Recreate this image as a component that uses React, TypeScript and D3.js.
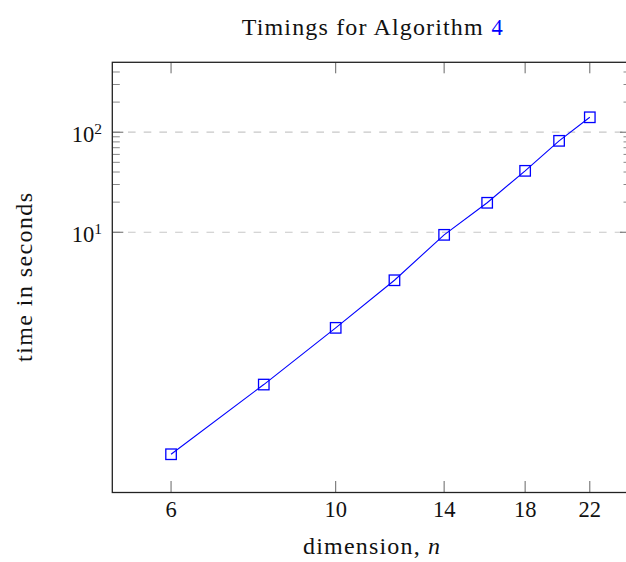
import React from "react";
import * as d3 from "d3";

const dims = [6, 8, 10, 12, 14, 16, 18, 20, 22];
const times = [0.0603, 0.3, 1.107, 3.31, 9.42, 19.7, 41.1, 82, 141];
const xTicks = [6, 10, 14, 18, 22];
const yMajor = [10, 100];
const yMajorExp = ["1", "2"];
const yMinor = [20, 30, 40, 50, 60, 70, 80, 90, 200, 300, 400];

const W = 626, H = 562;
const L = 112.3, R = 631, T = 62.3, B = 492.5;
const FONT = "Liberation Serif";

export default function App() {
  const x = d3.scaleLog().domain([5, 25]).range([L, R]);
  const y = d3.scaleLog().domain([0.025, 500]).range([B, T]);
  const line = d3.line<number>().x((_, i) => x(dims[i])).y((d) => y(d));
  const ms = 10.5;
  return (
    <svg width={W} height={H} style={{ position: "absolute", left: 0, top: 0 }}>
      <rect x={0} y={0} width={W} height={H} fill="#fff" />
      {yMajor.map((v) => (
        <line key={"g" + v} x1={L} x2={R} y1={y(v)} y2={y(v)} stroke="#c8c8c8" strokeWidth={1.2} strokeDasharray="7.6 8.1" />
      ))}
      {xTicks.map((v) => (
        <g key={"xt" + v} stroke="#666" strokeWidth={1}>
          <line x1={x(v)} x2={x(v)} y1={B} y2={B - 11.5} />
          <line x1={x(v)} x2={x(v)} y1={T} y2={T + 11} />
        </g>
      ))}
      {yMajor.map((v) => (
        <g key={"yt" + v} stroke="#666" strokeWidth={1}>
          <line x1={L} x2={L + 11} y1={y(v)} y2={y(v)} />
          <line x1={R} x2={R - 11} y1={y(v)} y2={y(v)} />
        </g>
      ))}
      {yMinor.map((v) => (
        <g key={"ym" + v} stroke="#888" strokeWidth={1}>
          <line x1={L} x2={L + 7.5} y1={y(v)} y2={y(v)} />
          <line x1={R} x2={R - 7.5} y1={y(v)} y2={y(v)} />
        </g>
      ))}
      <rect x={L} y={T} width={R - L} height={B - T} fill="none" stroke="#222" strokeWidth={1.3} />
      <path d={line(times) || ""} fill="none" stroke="#0000ff" strokeWidth={1.1} />
      {times.map((t, i) => (
        <rect key={"m" + i} x={x(dims[i]) - ms / 2} y={y(t) - ms / 2} width={ms} height={ms} fill="none" stroke="#0000ff" strokeWidth={1.3} />
      ))}
      {xTicks.map((v) => (
        <text key={"xl" + v} x={x(v)} y={517.3} textAnchor="middle" fontFamily={FONT} fontSize={22.5} fill="#111">{v}</text>
      ))}
      {yMajor.map((v, i) => (
        <text key={"yl" + v} x={102} y={y(v) + 10} textAnchor="end" fontFamily={FONT} fontSize={22.5} fill="#111">
          10<tspan dy={-8.4} fontSize={15.5}>{yMajorExp[i]}</tspan>
        </text>
      ))}
      <text x={241.7} y={35} fontFamily={FONT} fontSize={24} fill="#111" textLength={241} lengthAdjust="spacing">Timings for Algorithm</text>
      <text x={491.5} y={35} fontFamily={FONT} fontSize={22.5} fill="#0000ff">4</text>
      <text x={371.5} y={553.5} textAnchor="middle" fontFamily={FONT} fontSize={24} fill="#111" textLength={137} lengthAdjust="spacing">
        dimension, <tspan fontStyle="italic">n</tspan>
      </text>
      <text transform={`translate(31.5, ${(T + B) / 2}) rotate(-90)`} textAnchor="middle" fontFamily={FONT} fontSize={24} fill="#111" textLength={169} lengthAdjust="spacing">
        time in seconds
      </text>
    </svg>
  );
}
